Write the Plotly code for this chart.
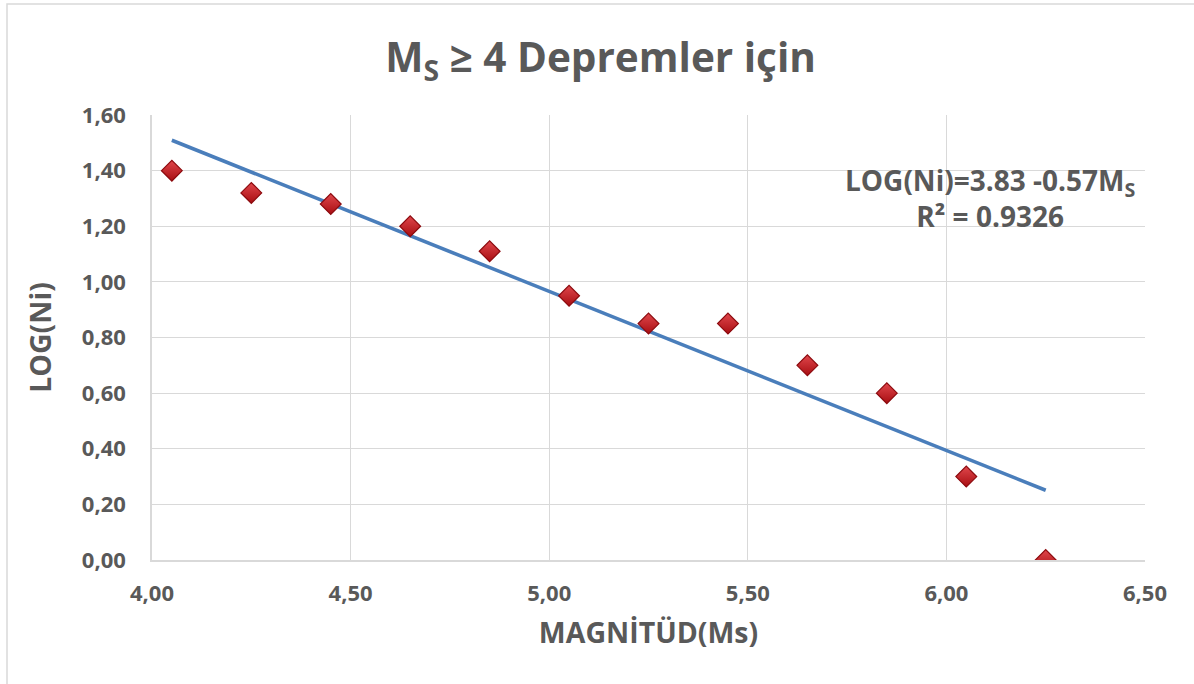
import numpy as np
import plotly.graph_objects as go

# Magnitude bins and log of event counts
magnitude = [4.05, 4.25, 4.45, 4.65, 4.85, 5.05, 5.25, 5.45, 5.65, 5.85, 6.05, 6.25]
log_ni = [1.40, 1.32, 1.28, 1.20, 1.11, 0.95, 0.85, 0.85, 0.70, 0.60, 0.30, 0.00]

x_ticks = [4.00, 4.50, 5.00, 5.50, 6.00, 6.50]
y_ticks = [0.00, 0.20, 0.40, 0.60, 0.80, 1.00, 1.20, 1.40, 1.60]

# Least-squares linear trend
slope, intercept = np.polyfit(magnitude, log_ni, 1)
trend_x = np.array([magnitude[0], magnitude[-1]])
trend_y = intercept + slope * trend_x

FONT = "Open Sans"
GREY = "#595959"

fig = go.Figure()

fig.add_trace(go.Scatter(
    x=trend_x, y=trend_y, mode="lines",
    line=dict(color="#4a7ebb", width=3.6),
    hoverinfo="skip", showlegend=False,
))

fig.add_trace(go.Scatter(
    x=magnitude, y=log_ni, mode="markers",
    marker=dict(symbol="diamond", size=16, color="#e0474c",
                gradient=dict(type="vertical", color="#a80e12"),
                line=dict(color="#8c0a0e", width=1.2)),
    showlegend=False,
))

fig.update_layout(
    width=1194, height=684,
    margin=dict(l=152, r=49, t=115, b=124),
    paper_bgcolor="white", plot_bgcolor="white",
    separators=", ",
    font=dict(family=FONT, color=GREY),
    title=dict(
        text="M<sub>S</sub> ≥ 4 Depremler için",
        x=0.503, xanchor="center", xref="container",
        y=0.915, yanchor="middle", yref="container",
        font=dict(family=FONT, size=40.5, color=GREY, weight="bold"),
    ),
    xaxis=dict(
        range=[4.0, 6.5], tickvals=x_ticks, tickformat=".2f",
        showgrid=True, gridcolor="#d9d9d9", gridwidth=1,
        showline=True, linecolor="#d9d9d9", linewidth=1.5,
        zeroline=False, ticks="", ticklabelstandoff=13,
        tickfont=dict(family=FONT, size=22, color=GREY, weight="bold"),
        title=dict(text="MAGNİTÜD(Ms)", standoff=17,
                   font=dict(family=FONT, size=28.5, color=GREY, weight="bold")),
    ),
    yaxis=dict(
        range=[0, 1.6], tickvals=y_ticks, tickformat=".2f",
        showgrid=True, gridcolor="#d9d9d9", gridwidth=1,
        showline=True, linecolor="#d9d9d9", linewidth=1.5,
        zeroline=False, ticks="", ticklabelstandoff=20,
        tickfont=dict(family=FONT, size=22, color=GREY, weight="bold"),
        title=dict(text="LOG(Ni)", standoff=22,
                   font=dict(family=FONT, size=28.5, color=GREY, weight="bold")),
    ),
    annotations=[dict(
        text="LOG(Ni)=3.83 -0.57M<sub>S</sub><br>R² = 0.9326",
        xref="x", yref="y", x=6.11, y=1.30,
        xanchor="center", yanchor="middle", align="center", showarrow=False,
        font=dict(family=FONT, size=28, color=GREY, weight="bold"),
    )],
    shapes=[dict(
        type="rect", xref="paper", yref="paper",
        x0=(7 - 152) / 993, x1=(1200 - 152) / 993,
        y0=-(690 - 560) / 445, y1=(560 - 4) / 445,
        line=dict(color="#d9d9d9", width=1.5), layer="below",
    )],
)

fig.write_html("out.html")
